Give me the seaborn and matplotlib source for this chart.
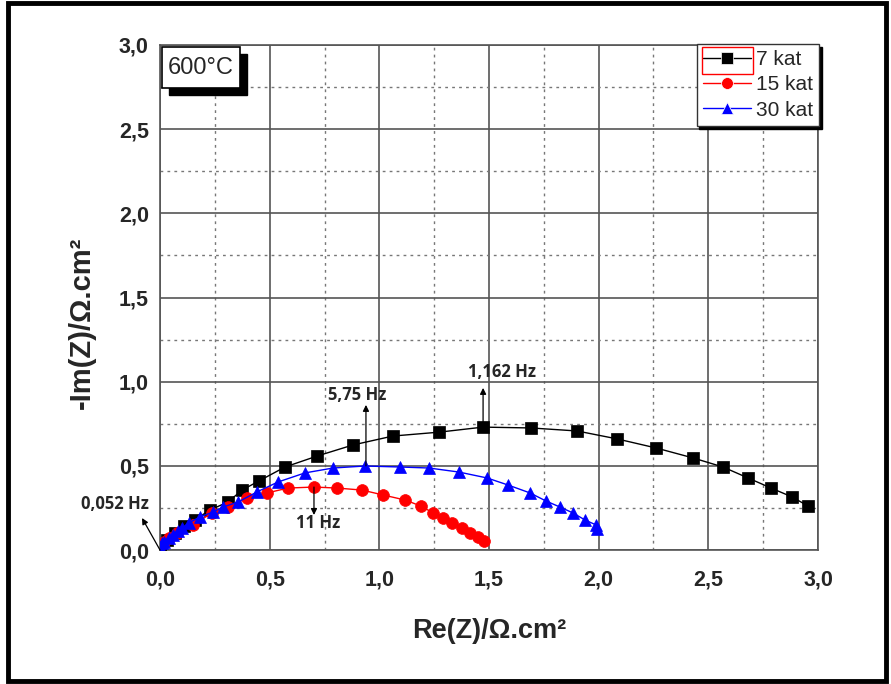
import numpy as np
import pandas as pd
import matplotlib
matplotlib.use("Agg")
import matplotlib.pyplot as plt
import seaborn as sns
from matplotlib.patches import Rectangle
from matplotlib.ticker import MultipleLocator

# Nyquist data at 600 °C (Re(Z), -Im(Z) in ohm.cm2)
re_7 = [0.00, 0.03, 0.07, 0.11, 0.16, 0.228, 0.31, 0.374, 0.451, 0.57, 0.716, 0.88, 1.062,
        1.272, 1.473, 1.692, 1.902, 2.084, 2.262, 2.43, 2.567, 2.681, 2.786, 2.882, 2.955]
im_7 = [0.03, 0.06, 0.10, 0.14, 0.18, 0.238, 0.285, 0.356, 0.41, 0.493, 0.558, 0.624, 0.677,
        0.70, 0.73, 0.725, 0.707, 0.66, 0.606, 0.547, 0.493, 0.428, 0.368, 0.315, 0.261]

re_15 = [0.00, 0.02, 0.04, 0.078, 0.15, 0.237, 0.31, 0.397, 0.488, 0.584, 0.702, 0.807, 0.921,
         1.017, 1.117, 1.19, 1.245, 1.29, 1.332, 1.377, 1.414, 1.45, 1.477]
im_15 = [0.03, 0.05, 0.07, 0.10, 0.149, 0.22, 0.255, 0.309, 0.339, 0.368, 0.374, 0.368, 0.356,
         0.327, 0.297, 0.261, 0.22, 0.19, 0.16, 0.131, 0.101, 0.077, 0.053]

re_30 = [0.00, 0.01, 0.02, 0.04, 0.06, 0.08, 0.10, 0.13, 0.182, 0.242, 0.287, 0.356, 0.442,
         0.538, 0.661, 0.789, 0.935, 1.094, 1.227, 1.363, 1.491, 1.587, 1.687, 1.76, 1.824,
         1.883, 1.938, 1.988, 1.993]
im_30 = [0.02, 0.04, 0.05, 0.07, 0.09, 0.11, 0.13, 0.16, 0.196, 0.226, 0.255, 0.285, 0.345,
         0.404, 0.458, 0.487, 0.499, 0.493, 0.487, 0.463, 0.428, 0.386, 0.339, 0.291, 0.255,
         0.22, 0.178, 0.149, 0.125]

series = ["7 kat", "15 kat", "30 kat"]
colors = ["black", "red", "blue"]
markers = ["s", "o", "^"]

# frequency labels: (text, arrow start, arrow end, text position)
freq_labels = [
    ("0,052 Hz", (0.0, 0.0), (-0.082, 0.19), (-0.205, 0.273)),
    ("5,75 Hz", (0.939, 0.50), (0.939, 0.862), (0.898, 0.921)),
    ("11 Hz", (0.702, 0.374), (0.702, 0.208), (0.72, 0.16)),
    ("1,162 Hz", (1.473, 0.73), (1.473, 0.963), (1.56, 1.058)),
]

df = pd.concat([
    pd.DataFrame({"re": re_7, "im": im_7, "sample": series[0]}),
    pd.DataFrame({"re": re_15, "im": im_15, "sample": series[1]}),
    pd.DataFrame({"re": re_30, "im": im_30, "sample": series[2]}),
], ignore_index=True)

sns.set_theme(style="white")
plt.rcParams["font.family"] = ["Liberation Sans", "DejaVu Sans"]

fig = plt.figure(figsize=(8.91, 6.84), dpi=100)
W, H = 891, 684
ax = fig.add_axes([160 / W, 1 - 550 / H, (818 - 160) / W, (550 - 45) / H])

sns.lineplot(data=df, x="re", y="im", hue="sample", style="sample",
             hue_order=series, style_order=series,
             palette=dict(zip(series, colors)), markers=dict(zip(series, markers)),
             dashes=False, sort=False, estimator=None, units="sample",
             linewidth=1.0, markersize=8.5, markeredgewidth=0.5,
             ax=ax, legend=True, zorder=3)
for line, c in zip(ax.lines, colors):
    line.set_markeredgecolor(c)

ax.set_xlim(0, 3.0)
ax.set_ylim(0, 3.0)
comma = plt.FuncFormatter(lambda v, p: f"{v:.1f}".replace(".", ","))
for axis in (ax.xaxis, ax.yaxis):
    axis.set_major_locator(MultipleLocator(0.5))
    axis.set_minor_locator(MultipleLocator(0.25))
    axis.set_major_formatter(comma)

ax.grid(which="major", color="#555555", linewidth=1.2, linestyle="-", zorder=0)
ax.grid(which="minor", color="#777777", linewidth=1.0, linestyle=(0, (2, 3)), zorder=0)
ax.set_axisbelow(True)
for sp in ax.spines.values():
    sp.set_color("#555555")
    sp.set_linewidth(1.2)

ax.tick_params(axis="x", which="both", length=0, pad=14)
ax.tick_params(axis="y", which="both", length=0, pad=8)
for lab in ax.get_xticklabels() + ax.get_yticklabels():
    lab.set_fontweight("bold")
    lab.set_fontsize(15.5)

ax.set_xlabel("Re(Z)/Ω.cm²", fontsize=19.5, fontweight="bold")
ax.set_ylabel("-Im(Z)/Ω.cm²", fontsize=21, fontweight="bold")
ax.xaxis.set_label_coords(0.5, -0.135)
ax.yaxis.set_label_coords(-0.097, 0.45)

# legend with a drop shadow
handles, labels = ax.get_legend_handles_labels()
leg = ax.legend(handles, labels, loc="upper right", bbox_to_anchor=(1.002, 1.002),
                frameon=True, fancybox=False, shadow={"color": "black", "alpha": 1.0},
                fontsize=15, handlelength=2.3, handletextpad=0.25, borderpad=0.3,
                labelspacing=0.3, borderaxespad=0.0)
leg.get_frame().set_edgecolor("#333333")
leg.get_frame().set_linewidth(1.0)
leg.set_zorder(6)

# selection box around the first legend entry
fig.patches.append(Rectangle((702 / W, 1 - 74 / H), (753 - 702) / W, (74 - 47) / H,
                             transform=fig.transFigure, fill=False, edgecolor="red",
                             linewidth=1.0, zorder=10))

# temperature tag with shadow
fig.patches.append(Rectangle((169 / W, 1 - 95 / H), (247 - 169) / W, (95 - 54) / H,
                             transform=fig.transFigure, facecolor="black",
                             edgecolor="black", zorder=8))
fig.patches.append(Rectangle((162 / W, 1 - 88 / H), (240 - 162) / W, (88 - 47) / H,
                             transform=fig.transFigure, facecolor="white",
                             edgecolor="black", linewidth=1.2, zorder=9))
fig.text(201 / W, 1 - 68 / H, "600°C", ha="center", va="center", fontsize=17, zorder=11)

# frequency markers
for text, start, end, tpos in freq_labels:
    ax.annotate("", xy=end, xytext=start, annotation_clip=False,
                arrowprops=dict(arrowstyle="-|>", color="black", lw=0.9,
                                mutation_scale=9, shrinkA=0, shrinkB=0), zorder=5)
    ax.text(tpos[0], tpos[1], text, ha="center", va="center", fontsize=12,
            fontweight="bold", family=["Open Sans", "DejaVu Sans"], clip_on=False, zorder=5)

# outer frame
fig.patches.append(Rectangle((8 / W, 1 - 681 / H), (886 - 8) / W, (681 - 3) / H,
                             transform=fig.transFigure, fill=False, edgecolor="black",
                             linewidth=3.5, zorder=20))

fig.savefig("out.png", dpi=100, facecolor="white")
